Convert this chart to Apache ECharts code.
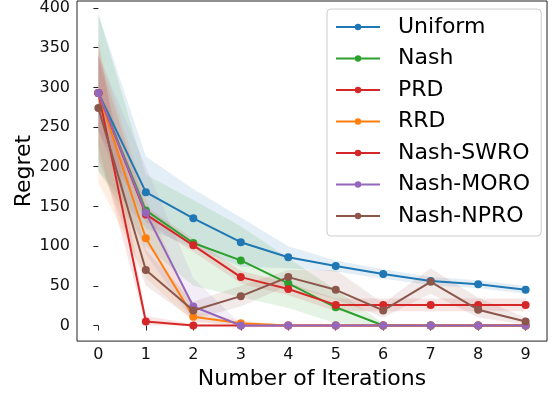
<!DOCTYPE html>
<html><head><meta charset="utf-8">
<script src="https://cdn.jsdelivr.net/npm/echarts@6/dist/echarts.min.js"></script>
<style>html,body{margin:0;padding:0;background:#fff}#c{width:557px;height:395px}</style>
</head><body><div id="c"></div>
<script>
const iterations = [0,1,2,3,4,5,6,7,8,9];
const yTicks = [0,50,100,150,200,250,300,350,400];
const names = ['Uniform','Nash','PRD','RRD','Nash-SWRO','Nash-MORO','Nash-NPRO'];
const colors = ['#1f77b4','#2ca02c','#d62728','#ff7f0e','#d62728','#9467bd','#8c564b'];

const uniformMean = [293,168,135,105,86,75,65,56,52,45];
const uniformHi   = [392,213,172,136,100,82,71,61,57,50];
const uniformLo   = [195,123,98,74,72,68,59,51,47,40];

const nashMean = [293,145,104,82,53,23,0,0,0,0];
const nashHi   = [393,190,158,125,85,45,3,0,0,0];
const nashLo   = [195,100,50,36,22,3,0,0,0,0];

const prdMean = [293,5,0,0,0,0,0,0,0,0];
const prdHi   = [360,12,2,0,0,0,0,0,0,0];
const prdLo   = [225,0,0,0,0,0,0,0,0,0];

const rrdMean = [293,110,11,3,0,0,0,0,0,0];
const rrdHi   = [350,160,18,6,1,0,0,0,0,0];
const rrdLo   = [180,60,4,0,0,0,0,0,0,0];

const swroMean = [293,140,101,61,46,26,26,26,26,26];
const swroHi   = [340,150,109,69,54,34,34,34,34,34];
const swroLo   = [245,130,93,53,38,18,18,18,18,18];

const moroMean = [293,142,24,0,0,0,0,0,0,0];
const moroHi   = [340,200,60,2,0,0,0,0,0,0];
const moroLo   = [245,90,5,0,0,0,0,0,0,0];

const nproMean = [274,70,19,37,61,45,19,55,20,5];
const nproHi   = [340,95,30,50,70,70,28,72,35,10];
const nproLo   = [210,50,8,24,50,33,10,40,10,1];

const means = [uniformMean,nashMean,prdMean,rrdMean,swroMean,moroMean,nproMean];
const his = [uniformHi,nashHi,prdHi,rrdHi,swroHi,moroHi,nproHi];
const los = [uniformLo,nashLo,prdLo,rrdLo,swroLo,moroLo,nproLo];

function hexA(hex,a){const n=parseInt(hex.slice(1),16);return `rgba(${n>>16},${(n>>8)&255},${n&255},${a})`;}

const series = [];
names.forEach((nm,i)=>{
  series.push({
    type:'custom', name:nm+'-band', silent:true, z:1,
    data:[[0,0]],
    renderItem:(params,api)=>{
      const pts=[];
      iterations.forEach((x,k)=>pts.push(api.coord([x,his[i][k]])));
      for(let k=iterations.length-1;k>=0;k--) pts.push(api.coord([iterations[k],los[i][k]]));
      return {type:'polygon',shape:{points:pts},style:{fill:hexA(colors[i],0.12),stroke:null}};
    }
  });
});
names.forEach((nm,i)=>{
  series.push({
    type:'line', name:nm, z:2+i,
    data: iterations.map((x,k)=>[x,means[i][k]]),
    symbol:'circle', symbolSize:8, showSymbol:true,
    lineStyle:{width:2,color:colors[i]}, itemStyle:{color:colors[i]},
    animation:false
  });
});

const chart = echarts.init(document.getElementById('c'));
chart.setOption({
  animation:false,
  color:colors,
  grid:{left:77,right:10,top:0,bottom:52,show:true,borderColor:'#222',borderWidth:1,backgroundColor:'transparent'},
  xAxis:{type:'value',min:-0.45,max:9.45,
    name:'Number of Iterations',nameLocation:'middle',nameGap:25,
    nameTextStyle:{fontFamily:'DejaVu Sans',fontSize:22,color:'#000'},
    axisLine:{show:false},splitLine:{show:false},
    axisTick:{show:true,length:5,lineStyle:{color:'#222'},customValues:iterations},
    axisLabel:{fontFamily:'DejaVu Sans',fontSize:16,color:'#111',margin:6,customValues:iterations}
  },
  yAxis:{type:'value',min:-19.6,max:408.75,
    name:'Regret',nameLocation:'middle',nameGap:42,nameMoveOverlap:false,
    nameTextStyle:{fontFamily:'DejaVu Sans',fontSize:22,color:'#000'},
    axisLine:{show:false},splitLine:{show:false},
    axisTick:{show:true,length:5,lineStyle:{color:'#222'},customValues:yTicks},
    axisLabel:{fontFamily:'DejaVu Sans',fontSize:16,color:'#111',margin:7,customValues:yTicks}
  },
  legend:{
    data:names, orient:'vertical', left:327, top:9,
    padding:[7,11,9,8], itemGap:9.5, itemWidth:44, itemHeight:8,
    backgroundColor:'rgba(255,255,255,0.85)', borderColor:'#ccc', borderWidth:1, borderRadius:4,
    textStyle:{fontFamily:'DejaVu Sans',fontSize:22,color:'#000',lineHeight:22,padding:[0,0,0,13]}
  },
  series:series
});
</script></body></html>
